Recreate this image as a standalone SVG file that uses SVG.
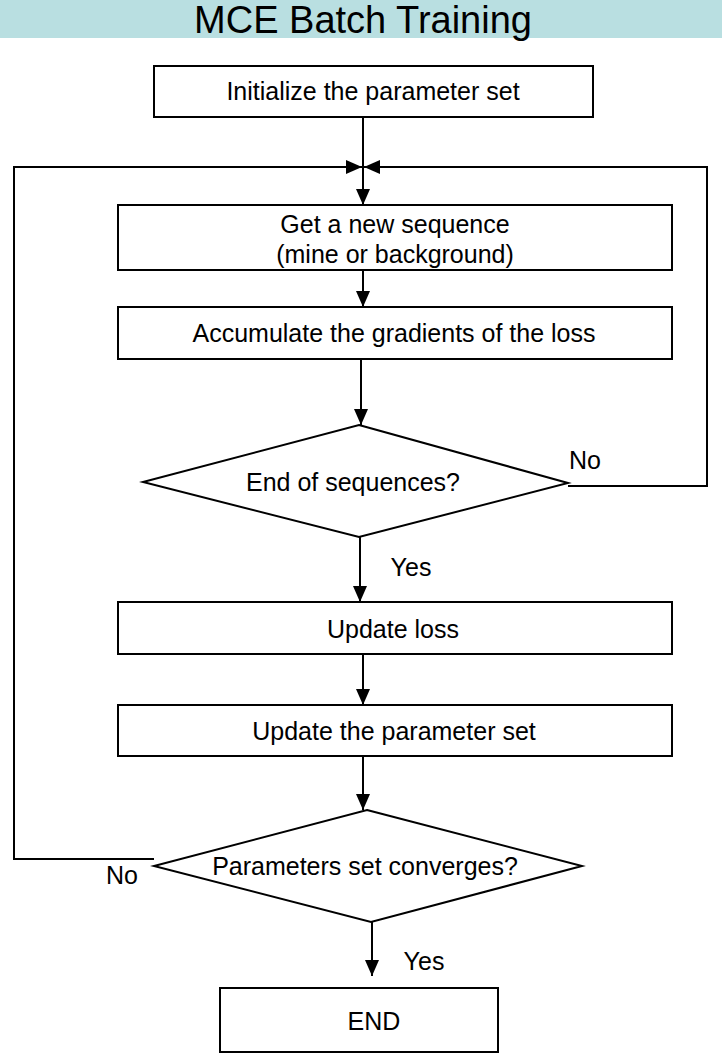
<svg xmlns="http://www.w3.org/2000/svg" width="722" height="1057" viewBox="0 0 722 1057">
<style>
.box{fill:#fff;stroke:#000;stroke-width:2}
.t{font-family:"Liberation Sans",Arial,sans-serif;font-size:25px;fill:#000;text-anchor:middle}
.c{fill:none;stroke:#000;stroke-width:2}
</style>
<defs>
<marker id="ah" viewBox="0 0 16 14" refX="16" refY="7" markerWidth="16" markerHeight="14" markerUnits="userSpaceOnUse" orient="auto">
<path d="M0,0 L16,7 L0,14 Z" fill="#000"/>
</marker>
</defs>
<rect x="0" y="0" width="722" height="38" fill="#b9dfe1"/>
<text x="363" y="33" font-family="Liberation Sans,Arial,sans-serif" font-size="38" text-anchor="middle" fill="#000">MCE Batch Training</text>

<g id="connectors">
<line class="c" x1="363" y1="117" x2="363" y2="205" marker-end="url(#ah)"/>
<polyline class="c" points="154,859 14,859 14,167 362,167" marker-end="url(#ah)"/>
<polyline class="c" points="568,486 707,486 707,167 364,167" marker-end="url(#ah)"/>
<line class="c" x1="363" y1="270" x2="363" y2="307" marker-end="url(#ah)"/>
<line class="c" x1="361" y1="359" x2="361" y2="425" marker-end="url(#ah)"/>
<line class="c" x1="360" y1="537" x2="360" y2="602" marker-end="url(#ah)"/>
<line class="c" x1="363" y1="654" x2="363" y2="705" marker-end="url(#ah)"/>
<line class="c" x1="363" y1="756" x2="363" y2="810" marker-end="url(#ah)"/>
<line class="c" x1="372" y1="922" x2="372" y2="976" marker-end="url(#ah)"/>
<text class="t" x="585" y="469">No</text>
<text class="t" x="411" y="576">Yes</text>
<text class="t" x="122" y="884">No</text>
<text class="t" x="424" y="970">Yes</text>
</g>

<g id="init">
<rect class="box" x="154" y="66" width="439" height="51"/>
<text class="t" x="373" y="100">Initialize the parameter set</text>
</g>
<g id="getseq">
<rect class="box" x="118" y="205" width="554" height="65"/>
<text class="t" x="395" y="233">Get a new sequence</text>
<text class="t" x="395" y="263">(mine or background)</text>
</g>
<g id="accum">
<rect class="box" x="118" y="307" width="554" height="52"/>
<text class="t" x="394" y="342">Accumulate the gradients of the loss</text>
</g>
<g id="endseq">
<polygon class="box" points="359,425 568,483 359,537 143,482"/>
<text class="t" x="353" y="491">End of sequences?</text>
</g>
<g id="updloss">
<rect class="box" x="118" y="602" width="554" height="52"/>
<text class="t" x="393" y="638">Update loss</text>
</g>
<g id="updparam">
<rect class="box" x="118" y="705" width="554" height="51"/>
<text class="t" x="394" y="740">Update the parameter set</text>
</g>
<g id="converge">
<polygon class="box" points="367,810 582,866 371,922 154,866"/>
<text class="t" x="365" y="875">Parameters set converges?</text>
</g>
<g id="end">
<rect class="box" x="220" y="988" width="278" height="64"/>
<text class="t" x="374" y="1030">END</text>
</g>
</svg>
